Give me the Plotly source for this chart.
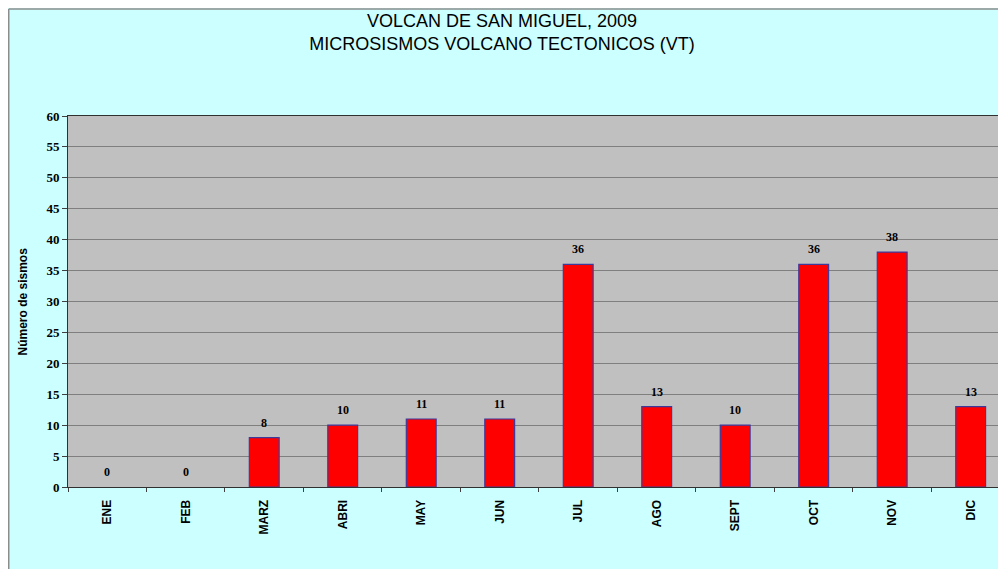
import plotly.graph_objects as go

# datos mensuales
meses = ["ENE", "FEB", "MARZ", "ABRI", "MAY", "JUN", "JUL", "AGO", "SEPT", "OCT", "NOV", "DIC"]
sismos = [0, 0, 8, 10, 11, 11, 36, 13, 10, 36, 38, 13]
y_ticks = list(range(0, 61, 5))

# la pagina deja 8px de margen blanco arriba/izquierda -> ese es el marco blanco
W, H = 998, 561
L, R, T, B = 60, 0, 108, 82
pw, ph = W - L - R, H - T - B


def px_x(p):
    # pixel -> paper x
    return (p - L) / pw


def px_y(p):
    # pixel -> paper y
    return (H - B - p) / ph


fig = go.Figure()

fig.add_trace(go.Bar(
    x=meses,
    y=sismos,
    width=0.38,
    marker=dict(
        color="#FF0000",
        # sin borde en las barras de valor cero
        line=dict(color="#3D3A9C", width=[0 if v == 0 else 1.2 for v in sismos]),
    ),
    hoverinfo="x+y",
    showlegend=False,
))

# etiquetas de valor encima de cada barra
for m, v in zip(meses, sismos):
    fig.add_annotation(
        x=m, y=v, text=f"<b>{v}</b>", showarrow=False, yshift=15,
        font=dict(family="Liberation Serif", size=12, color="black"),
    )

# titulo del eje y
fig.add_annotation(
    xref="paper", yref="paper", x=px_x(14), y=0.5, text="<b>Número de sismos</b>",
    textangle=-90, showarrow=False, xanchor="center", yanchor="middle",
    font=dict(family="Liberation Sans", size=12, color="black"),
)

# borde gris del area del grafico (izquierda y arriba)
bx, by = px_x(0.75), px_y(1.0)
fig.add_shape(type="line", xref="paper", yref="paper", x0=bx, x1=bx, y0=-1, y1=by,
              line=dict(color="#8C8C8C", width=1.5))
fig.add_shape(type="line", xref="paper", yref="paper", x0=bx, x1=2, y0=by, y1=by,
              line=dict(color="#8C8C8C", width=1.5))

fig.update_layout(
    width=W, height=H, autosize=False,
    margin=dict(l=L, r=R, t=T, b=B, pad=0),
    paper_bgcolor="#CCFFFF",
    plot_bgcolor="#C0C0C0",
    title=dict(
        text="VOLCAN DE SAN MIGUEL, 2009<br>MICROSISMOS VOLCANO TECTONICOS (VT)",
        x=494 / W, xref="container", xanchor="center",
        y=1 - 19 / H, yref="container", yanchor="top",
        font=dict(family="Liberation Sans", size=18, color="black"),
    ),
)

fig.update_xaxes(
    type="category",
    range=[-0.5, 11.45],
    tickangle=-90,
    tickfont=dict(family="Liberation Sans", size=12, color="black", weight="bold"),
    ticks="outside", ticklen=4, tickcolor="#404040", tickson="boundaries",
    ticklabelstandoff=7,
    showline=True, linecolor="#303030", linewidth=1, mirror=True,
    showgrid=False,
)

fig.update_yaxes(
    range=[0, 60],
    tickvals=y_ticks,
    tickfont=dict(family="Liberation Serif", size=13, color="black", weight="bold"),
    ticks="outside", ticklen=5, tickcolor="#404040",
    showline=True, linecolor="#303030", linewidth=1, mirror=True,
    showgrid=True, gridcolor="#7F7F7F", gridwidth=1,
    zeroline=False,
)

fig.write_html("out.html")
